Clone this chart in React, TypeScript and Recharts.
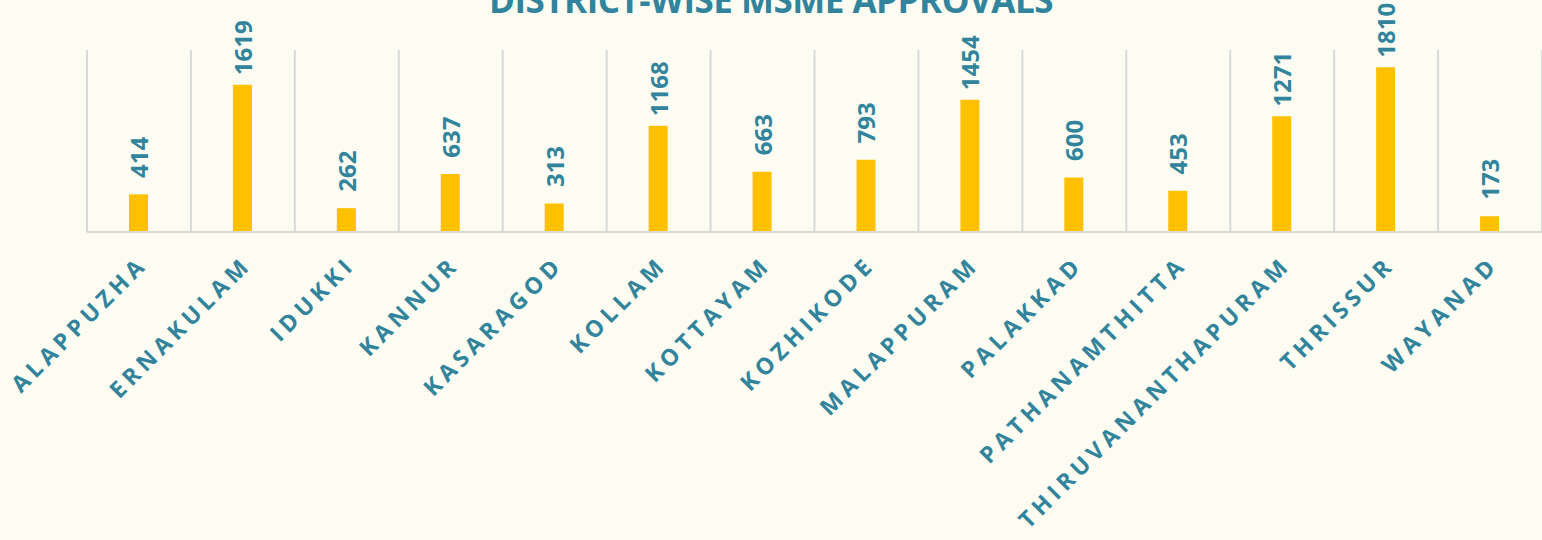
import React from "react";
import { BarChart, Bar, XAxis, YAxis, CartesianGrid, LabelList } from "recharts";

const districts = [
  "ALAPPUZHA",
  "ERNAKULAM",
  "IDUKKI",
  "KANNUR",
  "KASARAGOD",
  "KOLLAM",
  "KOTTAYAM",
  "KOZHIKODE",
  "MALAPPURAM",
  "PALAKKAD",
  "PATHANAMTHITTA",
  "THIRUVANANTHAPURAM",
  "THRISSUR",
  "WAYANAD",
];
const approvals = [414, 1619, 262, 637, 313, 1168, 663, 793, 1454, 600, 453, 1271, 1810, 173];

const data = districts.map((d, i) => ({ district: d, approvals: approvals[i] }));

const TEAL = "#31849B";
const BG = "#FCFCF3";
const W = 1542;
const H = 540;

const CategoryTick = (props: any) => {
  const { x, y, payload } = props;
  const ax = x + 10;
  const ay = y + 26;
  return (
    <text
      x={ax}
      y={ay}
      transform={`rotate(-45, ${ax}, ${ay})`}
      textAnchor="end"
      fill={TEAL}
      fontFamily="'Open Sans', sans-serif"
      fontWeight={700}
      fontSize={23}
      letterSpacing={4.8}
    >
      {payload.value}
    </text>
  );
};

const ValueLabel = (props: any) => {
  const { x, y, width, value } = props;
  const cx = Number(x) + Number(width) / 2;
  const cy = Number(y) - 37;
  return (
    <text
      x={cx}
      y={cy}
      transform={`rotate(-90, ${cx}, ${cy})`}
      textAnchor="middle"
      dominantBaseline="central"
      fill={TEAL}
      fontFamily="'Open Sans', sans-serif"
      fontWeight={700}
      fontSize={24}
    >
      {value}
    </text>
  );
};

export default function App() {
  return (
    <div style={{ position: "absolute", left: 0, top: 0, width: W, height: H, background: BG, overflow: "hidden" }}>
      <BarChart
        width={W}
        height={H}
        data={data}
        margin={{ top: 50, right: 0, bottom: 278, left: 87 }}
      >
        <CartesianGrid
          horizontal={false}
          stroke="#D9D9D9"
          strokeWidth={2}
          verticalCoordinatesGenerator={({ offset }: any) =>
            Array.from({ length: districts.length + 1 }, (_, i) => offset.left + (i * offset.width) / districts.length)
          }
        />
        <XAxis
          dataKey="district"
          interval={0}
          height={30}
          axisLine={{ stroke: "#D9D9D9", strokeWidth: 2 }}
          tickLine={false}
          tick={<CategoryTick />}
        />
        <YAxis hide domain={[0, 2000]} />
        <Bar dataKey="approvals" fill="#FFC000" barSize={19} isAnimationActive={false}>
          <LabelList dataKey="approvals" content={<ValueLabel />} />
        </Bar>
      </BarChart>
      <svg width={W} height={H} style={{ position: "absolute", left: 0, top: 0, pointerEvents: "none" }}>
        <text
          x={771}
          y={13}
          textAnchor="middle"
          fill={TEAL}
          fontFamily="'Open Sans', sans-serif"
          fontWeight={700}
          fontSize={35}
          letterSpacing={-0.5}
        >
          DISTRICT-WISE MSME APPROVALS
        </text>
      </svg>
    </div>
  );
}
